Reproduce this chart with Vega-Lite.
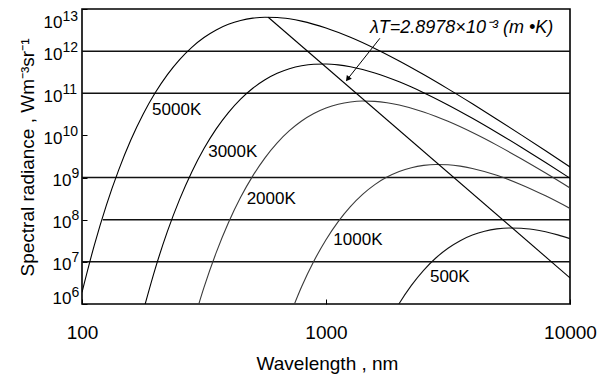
{
  "$schema": "https://vega.github.io/schema/vega-lite/v6.json",
  "width": 488,
  "height": 295,
  "autosize": {"type": "none"},
  "padding": {"left": 82, "top": 9, "right": 43, "bottom": 71},
  "background": "white",
  "config": {
    "view": {"stroke": "black", "strokeWidth": 1.6},
    "font": "Liberation Sans",
    "axis": {
      "labelFont": "Liberation Sans",
      "titleFont": "Liberation Sans",
      "labelColor": "black",
      "titleColor": "black",
      "titleFontWeight": "normal",
      "tickColor": "black",
      "domain": false,
      "grid": false
    }
  },
  "datasets": {
    "grid": [
      {"lam": 100, "lam2": 10000, "lgB": 12},
      {"lam": 100, "lam2": 10000, "lgB": 11},
      {"lam": 100, "lam2": 10000, "lgB": 9},
      {"lam": 121.6, "lam2": 10000, "lgB": 8},
      {"lam": 100, "lam2": 10000, "lgB": 7}
    ],
    "curves": [
      {"T": "5000K", "lam": 100, "lgB": 6.278},
      {"T": "5000K", "lam": 112.2, "lgB": 7.387},
      {"T": "5000K", "lam": 125.9, "lgB": 8.348},
      {"T": "5000K", "lam": 141.3, "lgB": 9.177},
      {"T": "5000K", "lam": 158.5, "lgB": 9.890},
      {"T": "5000K", "lam": 177.8, "lgB": 10.496},
      {"T": "5000K", "lam": 199.5, "lgB": 11.011},
      {"T": "5000K", "lam": 223.9, "lgB": 11.443},
      {"T": "5000K", "lam": 251.2, "lgB": 11.800},
      {"T": "5000K", "lam": 281.8, "lgB": 12.091},
      {"T": "5000K", "lam": 316.2, "lgB": 12.323},
      {"T": "5000K", "lam": 354.8, "lgB": 12.503},
      {"T": "5000K", "lam": 398.1, "lgB": 12.636},
      {"T": "5000K", "lam": 446.7, "lgB": 12.728},
      {"T": "5000K", "lam": 501.2, "lgB": 12.783},
      {"T": "5000K", "lam": 562.3, "lgB": 12.805},
      {"T": "5000K", "lam": 631.0, "lgB": 12.799},
      {"T": "5000K", "lam": 707.9, "lgB": 12.767},
      {"T": "5000K", "lam": 794.3, "lgB": 12.713},
      {"T": "5000K", "lam": 1000, "lgB": 12.550},
      {"T": "5000K", "lam": 1258.9, "lgB": 12.329},
      {"T": "5000K", "lam": 1584.9, "lgB": 12.064},
      {"T": "5000K", "lam": 1995.3, "lgB": 11.766},
      {"T": "5000K", "lam": 2511.9, "lgB": 11.444},
      {"T": "5000K", "lam": 3162.3, "lgB": 11.104},
      {"T": "5000K", "lam": 3981.1, "lgB": 10.750},
      {"T": "5000K", "lam": 5011.9, "lgB": 10.385},
      {"T": "5000K", "lam": 6309.6, "lgB": 10.013},
      {"T": "5000K", "lam": 7943.3, "lgB": 9.635},
      {"T": "5000K", "lam": 10000, "lgB": 9.252},

      {"T": "3000K", "lam": 177.8, "lgB": 5.810},
      {"T": "3000K", "lam": 199.5, "lgB": 6.835},
      {"T": "3000K", "lam": 223.9, "lgB": 7.722},
      {"T": "3000K", "lam": 251.2, "lgB": 8.483},
      {"T": "3000K", "lam": 281.8, "lgB": 9.134},
      {"T": "3000K", "lam": 316.2, "lgB": 9.688},
      {"T": "3000K", "lam": 354.8, "lgB": 10.155},
      {"T": "3000K", "lam": 398.1, "lgB": 10.543},
      {"T": "3000K", "lam": 446.7, "lgB": 10.862},
      {"T": "3000K", "lam": 501.2, "lgB": 11.119},
      {"T": "3000K", "lam": 562.3, "lgB": 11.321},
      {"T": "3000K", "lam": 631.0, "lgB": 11.474},
      {"T": "3000K", "lam": 707.9, "lgB": 11.583},
      {"T": "3000K", "lam": 794.3, "lgB": 11.654},
      {"T": "3000K", "lam": 891.3, "lgB": 11.690},
      {"T": "3000K", "lam": 1000, "lgB": 11.696},
      {"T": "3000K", "lam": 1122, "lgB": 11.675},
      {"T": "3000K", "lam": 1258.9, "lgB": 11.630},
      {"T": "3000K", "lam": 1584.9, "lgB": 11.482},
      {"T": "3000K", "lam": 1995.3, "lgB": 11.272},
      {"T": "3000K", "lam": 2511.9, "lgB": 11.015},
      {"T": "3000K", "lam": 3162.3, "lgB": 10.724},
      {"T": "3000K", "lam": 3981.1, "lgB": 10.407},
      {"T": "3000K", "lam": 5011.9, "lgB": 10.070},
      {"T": "3000K", "lam": 6309.6, "lgB": 9.719},
      {"T": "3000K", "lam": 7943.3, "lgB": 9.356},
      {"T": "3000K", "lam": 10000, "lgB": 8.986},

      {"T": "2000K", "lam": 281.8, "lgB": 5.438},
      {"T": "2000K", "lam": 316.2, "lgB": 6.394},
      {"T": "2000K", "lam": 354.8, "lgB": 7.219},
      {"T": "2000K", "lam": 398.1, "lgB": 7.927},
      {"T": "2000K", "lam": 446.7, "lgB": 8.531},
      {"T": "2000K", "lam": 501.2, "lgB": 9.041},
      {"T": "2000K", "lam": 562.3, "lgB": 9.469},
      {"T": "2000K", "lam": 631.0, "lgB": 9.824},
      {"T": "2000K", "lam": 707.9, "lgB": 10.112},
      {"T": "2000K", "lam": 794.3, "lgB": 10.342},
      {"T": "2000K", "lam": 891.3, "lgB": 10.520},
      {"T": "2000K", "lam": 1000, "lgB": 10.651},
      {"T": "2000K", "lam": 1122, "lgB": 10.741},
      {"T": "2000K", "lam": 1258.9, "lgB": 10.795},
      {"T": "2000K", "lam": 1412.5, "lgB": 10.816},
      {"T": "2000K", "lam": 1584.9, "lgB": 10.808},
      {"T": "2000K", "lam": 1778.3, "lgB": 10.776},
      {"T": "2000K", "lam": 1995.3, "lgB": 10.721},
      {"T": "2000K", "lam": 2511.9, "lgB": 10.557},
      {"T": "2000K", "lam": 3162.3, "lgB": 10.334},
      {"T": "2000K", "lam": 3981.1, "lgB": 10.068},
      {"T": "2000K", "lam": 5011.9, "lgB": 9.770},
      {"T": "2000K", "lam": 6309.6, "lgB": 9.447},
      {"T": "2000K", "lam": 7943.3, "lgB": 9.107},
      {"T": "2000K", "lam": 10000, "lgB": 8.753},

      {"T": "1000K", "lam": 707.9, "lgB": 5.698},
      {"T": "1000K", "lam": 794.3, "lgB": 6.408},
      {"T": "1000K", "lam": 891.3, "lgB": 7.014},
      {"T": "1000K", "lam": 1000, "lgB": 7.526},
      {"T": "1000K", "lam": 1122, "lgB": 7.956},
      {"T": "1000K", "lam": 1258.9, "lgB": 8.311},
      {"T": "1000K", "lam": 1412.5, "lgB": 8.601},
      {"T": "1000K", "lam": 1584.9, "lgB": 8.833},
      {"T": "1000K", "lam": 1778.3, "lgB": 9.011},
      {"T": "1000K", "lam": 1995.3, "lgB": 9.144},
      {"T": "1000K", "lam": 2238.7, "lgB": 9.235},
      {"T": "1000K", "lam": 2511.9, "lgB": 9.289},
      {"T": "1000K", "lam": 2818.4, "lgB": 9.311},
      {"T": "1000K", "lam": 3162.3, "lgB": 9.304},
      {"T": "1000K", "lam": 3548.1, "lgB": 9.272},
      {"T": "1000K", "lam": 3981.1, "lgB": 9.217},
      {"T": "1000K", "lam": 5011.9, "lgB": 9.054},
      {"T": "1000K", "lam": 6309.6, "lgB": 8.832},
      {"T": "1000K", "lam": 7943.3, "lgB": 8.566},
      {"T": "1000K", "lam": 10000, "lgB": 8.268},

      {"T": "500K", "lam": 1778.3, "lgB": 5.497},
      {"T": "500K", "lam": 1995.3, "lgB": 6.012},
      {"T": "500K", "lam": 2238.7, "lgB": 6.443},
      {"T": "500K", "lam": 2511.9, "lgB": 6.800},
      {"T": "500K", "lam": 2818.4, "lgB": 7.091},
      {"T": "500K", "lam": 3162.3, "lgB": 7.323},
      {"T": "500K", "lam": 3548.1, "lgB": 7.503},
      {"T": "500K", "lam": 3981.1, "lgB": 7.636},
      {"T": "500K", "lam": 4466.8, "lgB": 7.728},
      {"T": "500K", "lam": 5011.9, "lgB": 7.783},
      {"T": "500K", "lam": 5623.4, "lgB": 7.805},
      {"T": "500K", "lam": 6309.6, "lgB": 7.799},
      {"T": "500K", "lam": 7079.5, "lgB": 7.767},
      {"T": "500K", "lam": 7943.3, "lgB": 7.713},
      {"T": "500K", "lam": 8912.5, "lgB": 7.640},
      {"T": "500K", "lam": 10000, "lgB": 7.551}
    ],
    "wien": [
      {"lam": 579.6, "lgB": 12.805},
      {"lam": 10000, "lgB": 6.62}
    ],
    "arrow": [
      {"lam": 1663, "lgB": 12.305},
      {"lam": 1233, "lgB": 11.356}
    ],
    "arrowTip": [
      {"lam": 1233, "lgB": 11.356}
    ],
    "curveLabels": [
      {"label": "5000K", "lam": 193.8, "lgB": 10.485},
      {"label": "3000K", "lam": 329, "lgB": 9.488},
      {"label": "2000K", "lam": 473, "lgB": 8.384},
      {"label": "1000K", "lam": 1072, "lgB": 7.40},
      {"label": "500K", "lam": 2667, "lgB": 6.529}
    ],
    "note": [
      {"label": "λT=2.8978×10⁻³ (m •K)", "lam": 1514, "lgB": 12.423}
    ],
    "decades": [
      {"lgB": 6, "e": "6"},
      {"lgB": 7, "e": "7"},
      {"lgB": 8, "e": "8"},
      {"lgB": 9, "e": "9"},
      {"lgB": 10, "e": "10"},
      {"lgB": 11, "e": "11"},
      {"lgB": 12, "e": "12"},
      {"lgB": 13, "e": "13"}
    ]
  },
  "layer": [
    {
      "data": {"name": "grid"},
      "mark": {"type": "rule", "color": "#111", "strokeWidth": 1.5},
      "encoding": {
        "x": {
          "field": "lam",
          "type": "quantitative",
          "scale": {"type": "log", "domain": [100, 10000], "nice": false},
          "axis": {
            "values": [100, 1000, 10000],
            "format": "d",
            "labelFontSize": 19,
            "tickSize": -5,
            "labelPadding": 24.6,
            "labelFlush": false,
            "labelOverlap": false,
            "title": "Wavelength , nm",
            "titleFontSize": 19,
            "titleBaseline": "alphabetic",
            "titleX": 245,
            "titleY": 65
          }
        },
        "x2": {"field": "lam2"},
        "y": {
          "field": "lgB",
          "type": "quantitative",
          "scale": {"domain": [6, 13], "nice": false, "zero": false},
          "axis": {
            "values": [6, 7, 8, 9, 10, 11, 12, 13],
            "labels": false,
            "tickSize": -5,
            "title": "Spectral radiance , Wm⁻³sr⁻¹",
            "titleFontSize": 19,
            "titleBaseline": "alphabetic",
            "titleAlign": "center",
            "titleX": -48.5,
            "titleY": 148
          }
        }
      }
    },
    {
      "data": {"name": "curves"},
      "mark": {"type": "line", "interpolate": "monotone", "strokeWidth": 1.1, "clip": true},
      "encoding": {
        "x": {"field": "lam", "type": "quantitative"},
        "y": {"field": "lgB", "type": "quantitative"},
        "color": {
          "field": "T",
          "type": "nominal",
          "scale": {
            "domain": ["5000K", "3000K", "2000K", "1000K", "500K"],
            "range": ["#000000", "#000000", "#3a3a3a", "#3a3a3a", "#111111"]
          },
          "legend": null
        }
      }
    },
    {
      "data": {"name": "wien"},
      "mark": {"type": "line", "color": "#000", "strokeWidth": 1.1, "clip": true},
      "encoding": {
        "x": {"field": "lam", "type": "quantitative"},
        "y": {"field": "lgB", "type": "quantitative"}
      }
    },
    {
      "data": {"name": "arrow"},
      "mark": {"type": "line", "color": "#000", "strokeWidth": 1},
      "encoding": {
        "x": {"field": "lam", "type": "quantitative"},
        "y": {"field": "lgB", "type": "quantitative"}
      }
    },
    {
      "data": {"name": "arrowTip"},
      "mark": {"type": "point", "shape": "triangle", "filled": true, "color": "#000", "size": 40, "angle": 218, "opacity": 1},
      "encoding": {
        "x": {"field": "lam", "type": "quantitative"},
        "y": {"field": "lgB", "type": "quantitative"}
      }
    },
    {
      "data": {"name": "curveLabels"},
      "mark": {"type": "text", "align": "left", "baseline": "alphabetic", "fontSize": 17, "font": "Liberation Sans", "color": "#000"},
      "encoding": {
        "x": {"field": "lam", "type": "quantitative"},
        "y": {"field": "lgB", "type": "quantitative"},
        "text": {"field": "label"}
      }
    },
    {
      "data": {"name": "note"},
      "mark": {"type": "text", "align": "left", "baseline": "alphabetic", "fontSize": 18, "fontStyle": "italic", "font": "Liberation Sans", "color": "#000"},
      "encoding": {
        "x": {"field": "lam", "type": "quantitative"},
        "y": {"field": "lgB", "type": "quantitative"},
        "text": {"field": "label"}
      }
    },
    {
      "data": {"name": "decades"},
      "mark": {
        "type": "text",
        "align": "right",
        "baseline": "alphabetic",
        "fontSize": 17,
        "font": "Liberation Sans",
        "color": "#000",
        "dx": {"expr": "datum.lgB >= 10 ? -19.5 : -10.5"},
        "dy": {"expr": "datum.lgB == 13 ? 19.3 : (datum.lgB == 6 ? 0 : 8.5)"}
      },
      "encoding": {
        "x": {"datum": 100, "type": "quantitative"},
        "y": {"field": "lgB", "type": "quantitative"},
        "text": {"value": "10"}
      }
    },
    {
      "data": {"name": "decades"},
      "mark": {
        "type": "text",
        "align": "left",
        "baseline": "alphabetic",
        "fontSize": 14,
        "font": "Liberation Sans",
        "color": "#000",
        "dx": {"expr": "datum.lgB >= 10 ? -19.5 : -10.5"},
        "dy": {"expr": "datum.lgB == 13 ? 11.7 : (datum.lgB == 6 ? -7 : 0.5)"}
      },
      "encoding": {
        "x": {"datum": 100, "type": "quantitative"},
        "y": {"field": "lgB", "type": "quantitative"},
        "text": {"field": "e"}
      }
    }
  ]
}
